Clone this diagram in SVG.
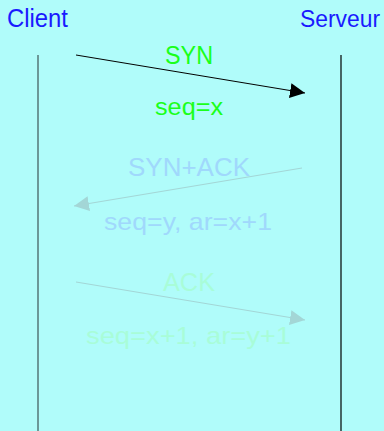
<svg xmlns="http://www.w3.org/2000/svg" width="384" height="431" viewBox="0 0 384 431">
<style>
text{font-family:"Liberation Sans",Arial,sans-serif;text-anchor:middle}
.h{fill:#1a1aff;font-size:26px}
.lab{font-size:26px}
.sub{font-size:24px}
</style>
<defs>
<marker id="a1" viewBox="0 0 10 10" refX="10" refY="5" markerWidth="15" markerHeight="15" markerUnits="userSpaceOnUse" orient="auto"><path d="M0,0L10,5L0,10z" fill="#000"/></marker>
<marker id="a2" viewBox="0 0 10 10" refX="10" refY="5" markerWidth="15" markerHeight="15" markerUnits="userSpaceOnUse" orient="auto"><path d="M0,0L10,5L0,10z" fill="#a3d6d6"/></marker>
</defs>
<rect width="384" height="431" fill="#b0fcfa"/>
<g id="client"><text class="h" x="37.5" y="27" textLength="61" lengthAdjust="spacingAndGlyphs">Client</text><line x1="38" y1="55" x2="38" y2="431" stroke="#557777" stroke-width="1.5"/></g>
<g id="serveur"><text class="h" x="340" y="27" style="font-size:24px" textLength="80" lengthAdjust="spacingAndGlyphs">Serveur</text><line x1="341" y1="55" x2="341" y2="431" stroke="#000" stroke-width="1.2"/></g>
<g id="connectors">
<line x1="76" y1="55" x2="305" y2="93" stroke="#000" stroke-width="1" marker-end="url(#a1)"/>
<line x1="302" y1="168" x2="74" y2="206" stroke="#a3d6d6" stroke-width="1" marker-end="url(#a2)"/>
<line x1="76" y1="282" x2="305" y2="320" stroke="#a3d6d6" stroke-width="1" marker-end="url(#a2)"/>
</g>
<g id="labels">
<text class="lab" x="189" y="64" fill="#1aff1a" textLength="48" lengthAdjust="spacingAndGlyphs">SYN</text>
<text class="sub" x="189" y="115" fill="#1aff1a" textLength="68" lengthAdjust="spacingAndGlyphs">seq=x</text>
<text class="lab" x="189" y="176" fill="#a0d8fc" textLength="122" lengthAdjust="spacingAndGlyphs">SYN+ACK</text>
<text class="sub" x="188" y="230" fill="#a0d8fc" textLength="168" lengthAdjust="spacingAndGlyphs">seq=y, ar=x+1</text>
<text class="lab" x="189" y="291" fill="#a8fcd8" textLength="52" lengthAdjust="spacingAndGlyphs">ACK</text>
<text class="sub" x="188.5" y="344" fill="#a8fcd8" textLength="205" lengthAdjust="spacingAndGlyphs">seq=x+1, ar=y+1</text>
</g>
</svg>
